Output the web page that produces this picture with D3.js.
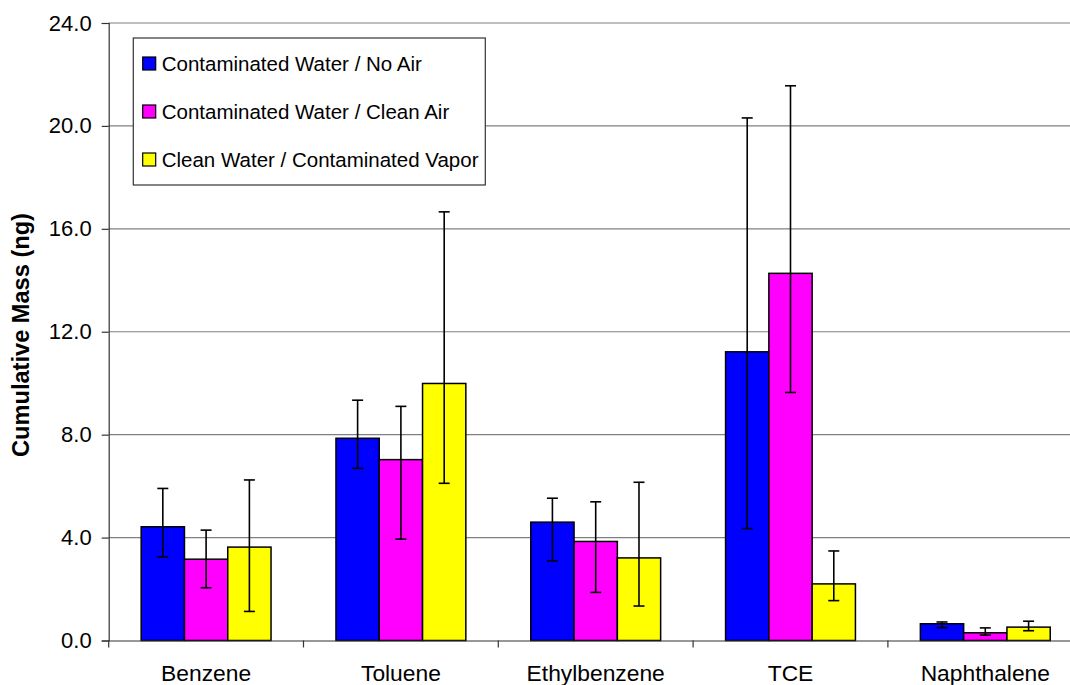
<!DOCTYPE html>
<html>
<head>
<meta charset="utf-8">
<script src="https://cdn.jsdelivr.net/npm/d3@7"></script>
<style>
  html, body { margin: 0; padding: 0; background: #fff; }
  svg { display: block; font-family: Arial, "Liberation Sans", sans-serif; }
</style>
</head>
<body>
<svg id="chart" width="1070" height="685"></svg>
<script>
// ---- data ----
const categories = ["Benzene", "Toluene", "Ethylbenzene", "TCE", "Naphthalene"];
const seriesNames = ["Contaminated Water / No Air", "Contaminated Water / Clean Air", "Clean Water / Contaminated Vapor"];
const seriesColors = ["#0000FF", "#FF00FF", "#FFFF00"];

const noAirValues    = [4.42, 7.86, 4.60, 11.22, 0.65];
const noAirHigh      = [5.91, 9.34, 5.53, 20.31, 0.72];
const noAirLow       = [3.25, 6.69, 3.10, 4.35, 0.50];

const cleanAirValues = [3.16, 7.03, 3.85, 14.27, 0.30];
const cleanAirHigh   = [4.29, 9.10, 5.39, 21.56, 0.49];
const cleanAirLow    = [2.05, 3.94, 1.87, 9.64, 0.21];

const vaporValues    = [3.63, 9.99, 3.21, 2.20, 0.52];
const vaporHigh      = [6.24, 16.66, 6.15, 3.48, 0.75];
const vaporLow       = [1.13, 6.11, 1.34, 1.55, 0.38];

const yTicks = [0, 4, 8, 12, 16, 20, 24];
const yTitle = "Cumulative Mass (ng)";

(function () {
// ---- build table ----
const series = [
  { name: seriesNames[0], color: seriesColors[0], v: noAirValues, hi: noAirHigh, lo: noAirLow },
  { name: seriesNames[1], color: seriesColors[1], v: cleanAirValues, hi: cleanAirHigh, lo: cleanAirLow },
  { name: seriesNames[2], color: seriesColors[2], v: vaporValues, hi: vaporHigh, lo: vaporLow }
];
const rows = [];
categories.forEach((c, i) => series.forEach((s, j) => rows.push({
  cat: c, si: j, color: s.color, value: s.v[i], hi: s.hi[i], lo: s.lo[i]
})));

// ---- layout ----
const svg = d3.select("#chart");
const pLeft = 108.7, pTop = 23, pBottom = 640.5;
const catStep = 194.8;
const pRight = pLeft + catStep * categories.length;

const x0 = d3.scaleBand().domain(categories).range([pLeft, pRight]).paddingInner(0).paddingOuter(0);
const x1 = d3.scaleBand().domain(d3.range(series.length)).range([0, x0.bandwidth()]).paddingInner(0).paddingOuter(0.75);
const y = d3.scaleLinear().domain([0, 24]).range([pBottom, pTop]);

// gridlines
svg.append("g")
  .selectAll("line").data(yTicks.filter(t => t > 0)).join("line")
  .attr("x1", pLeft).attr("x2", pRight)
  .attr("y1", d => y(d)).attr("y2", d => y(d))
  .attr("stroke", "#808080").attr("stroke-width", 1.2);

// y axis
const yAxis = d3.axisLeft(y).tickValues(yTicks).tickFormat(d3.format(".1f")).tickSize(7).tickPadding(10);
const gy = svg.append("g").attr("transform", `translate(${pLeft},0)`).call(yAxis);
gy.select(".domain").attr("stroke", "#333").attr("stroke-width", 1.2);
gy.selectAll(".tick line").attr("stroke", "#333").attr("stroke-width", 1.2);
gy.selectAll(".tick text").attr("font-size", 22).attr("fill", "#000")
  .attr("font-family", "Arial, 'Liberation Sans', sans-serif");

// bars
svg.append("g").selectAll("rect").data(rows).join("rect")
  .attr("x", d => x0(d.cat) + x1(d.si))
  .attr("width", x1.bandwidth())
  .attr("y", d => y(d.value))
  .attr("height", d => y(0) - y(d.value))
  .attr("fill", d => d.color)
  .attr("stroke", "#000").attr("stroke-width", 1.5);

// x axis (bottom)
const xAxis = d3.axisBottom(x0).tickSize(0).tickPadding(0);
const gx = svg.append("g").attr("transform", `translate(0,${pBottom})`).call(xAxis);
gx.select(".domain").attr("stroke", "#333").attr("stroke-width", 1.2);
gx.selectAll(".tick text").attr("font-size", 22.8).attr("fill", "#000")
  .attr("dy", "0").attr("y", 40.5)
  .attr("font-family", "Arial, 'Liberation Sans', sans-serif");
// category boundary ticks
const boundaries = categories.map(c => x0(c)).concat([pRight]);
gx.selectAll(".bnd").data(boundaries).join("line").attr("class", "bnd")
  .attr("x1", d => d).attr("x2", d => d).attr("y1", 0).attr("y2", 7)
  .attr("stroke", "#333").attr("stroke-width", 1.2);

// error bars
const eg = svg.append("g").attr("stroke", "#000").attr("stroke-width", 1.6);
const cx = d => x0(d.cat) + x1(d.si) + x1.bandwidth() / 2;
eg.selectAll(".ev").data(rows).join("line").attr("class", "ev")
  .attr("x1", cx).attr("x2", cx).attr("y1", d => y(d.hi)).attr("y2", d => y(d.lo));
eg.selectAll(".eh").data(rows).join("line").attr("class", "eh")
  .attr("x1", d => cx(d) - 5.5).attr("x2", d => cx(d) + 5.5).attr("y1", d => y(d.hi)).attr("y2", d => y(d.hi));
eg.selectAll(".el").data(rows).join("line").attr("class", "el")
  .attr("x1", d => cx(d) - 5.5).attr("x2", d => cx(d) + 5.5).attr("y1", d => y(d.lo)).attr("y2", d => y(d.lo));

// y title
svg.append("text")
  .attr("transform", `translate(29,335) rotate(-90)`)
  .attr("text-anchor", "middle")
  .attr("font-size", 23.6).attr("font-weight", "bold").attr("fill", "#000")
  .text(yTitle);

// legend
const lg = svg.append("g");
lg.append("rect").attr("x", 133.3).attr("y", 38).attr("width", 352).attr("height", 147)
  .attr("fill", "#fff").attr("stroke", "#333").attr("stroke-width", 1.2);
const li = lg.selectAll(".li").data(series).join("g").attr("class", "li")
  .attr("transform", (d, i) => `translate(142.7,${57 + i * 48})`);
li.append("rect").attr("width", 13).attr("height", 13)
  .attr("fill", d => d.color).attr("stroke", "#000").attr("stroke-width", 1.2);
li.append("text").attr("x", 19).attr("y", 6.5).attr("dy", "0.35em")
  .attr("font-size", 20.5).attr("fill", "#000").text(d => d.name);
})();
</script>
</body>
</html>
